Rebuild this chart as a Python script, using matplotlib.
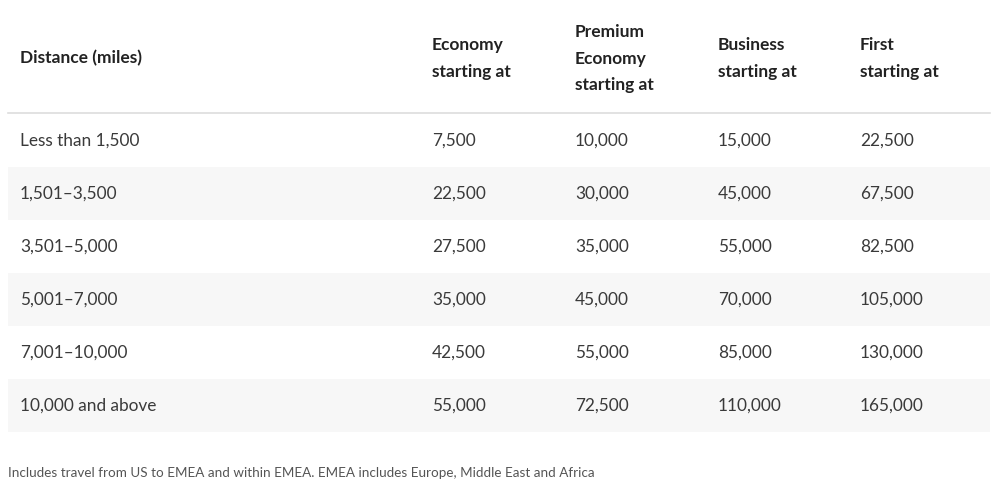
import matplotlib.pyplot as plt
from matplotlib.patches import Rectangle

plt.rcParams['font.family'] = ['Lato', 'DejaVu Sans']

# Данные таблицы
headers = ["Distance (miles)", "Economy\nstarting at", "Premium\nEconomy\nstarting at",
           "Business\nstarting at", "First\nstarting at"]
distances = ["Less than 1,500", "1,501\u20133,500", "3,501\u20135,000", "5,001\u20137,000",
             "7,001\u201310,000", "10,000 and above"]
economy = [7500, 22500, 27500, 35000, 42500, 55000]
premium = [10000, 30000, 35000, 45000, 55000, 72500]
business = [15000, 45000, 55000, 70000, 85000, 110000]
first = [22500, 67500, 82500, 105000, 130000, 165000]
note = "Includes travel from US to EMEA and within EMEA. EMEA includes Europe, Middle East and Africa"

# Геометрия (в пикселях)
W, H = 999, 499
LEFT, RIGHT = 8, 990
HEAD_BOTTOM = 113
ROW_H = 53
COL_X = [20, 432, 575, 718, 860]

fig = plt.figure(figsize=(W / 100, H / 100), dpi=100)
ax = fig.add_axes([0, 0, 1, 1])
ax.set_xlim(0, W)
ax.set_ylim(H, 0)
ax.axis('off')

# Заголовки
for x, h in zip(COL_X, headers):
    ax.text(x, 58.5, h, fontsize=12.5, fontweight='bold', color='#222222',
            ha='left', va='center', linespacing=1.8)

ax.plot([LEFT, RIGHT], [HEAD_BOTTOM, HEAD_BOTTOM], color='#dddddd', lw=1.2)

# Строки
cols = [economy, premium, business, first]
for i, d in enumerate(distances):
    top = HEAD_BOTTOM + 1 + i * ROW_H
    if i % 2 == 1:
        ax.add_patch(Rectangle((LEFT, top), RIGHT - LEFT, ROW_H, color='#f7f7f7', lw=0))
    yc = top + ROW_H / 2
    ax.text(COL_X[0], yc, d, fontsize=12.4, color='#3a3a3a', ha='left', va='center')
    for j, c in enumerate(cols):
        ax.text(COL_X[j + 1], yc, f"{c[i]:,}", fontsize=12.4, color='#3a3a3a',
                ha='left', va='center')

# Примечание
ax.text(8, 473, note, fontsize=9.7, color='#555555', ha='left', va='center')

fig.savefig("out.png", dpi=100)
